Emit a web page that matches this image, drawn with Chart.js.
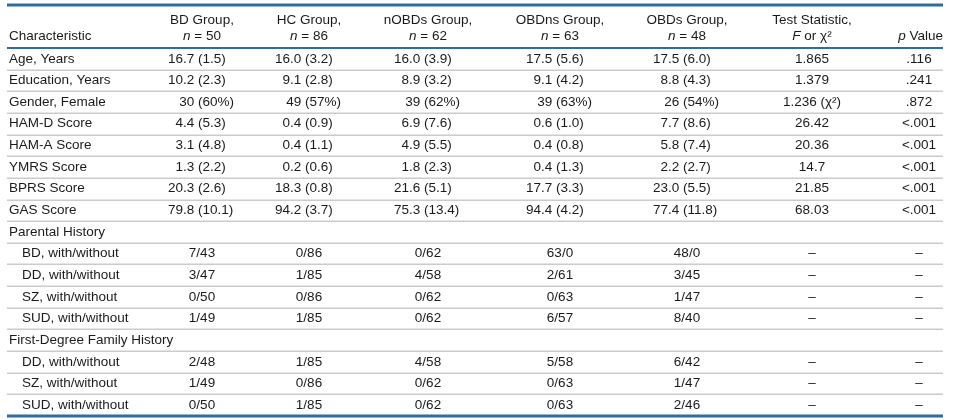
<!DOCTYPE html>
<html>
<head>
<meta charset="utf-8">
<script src="https://cdn.jsdelivr.net/npm/chart.js@4.4.1/dist/chart.umd.min.js"></script>
<style>
  html, body { margin: 0; padding: 0; background: #fff; }
  #wrap { width: 960px; height: 420px; position: relative; }
</style>
</head>
<body>
<div id="wrap"><canvas id="myChart"></canvas></div>
<script>
// rows of the table
const characteristics = [
    'Age, Years', 'Education, Years', 'Gender, Female', 'HAM-D Score', 'HAM-A Score',
    'YMRS Score', 'BPRS Score', 'GAS Score',
    'Parental History', 'BD, with/without', 'DD, with/without', 'SZ, with/without', 'SUD, with/without',
    'First-Degree Family History', 'DD, with/without', 'SZ, with/without', 'SUD, with/without'
];
const sectionHeaders = ['Parental History', 'First-Degree Family History'];

// column headers
const groupNames = ['BD Group,', 'HC Group,', 'nOBDs Group,', 'OBDns Group,', 'OBDs Group,'];
const groupN = [50, 86, 62, 63, 48];

// cell values per column
const bdGroup = ['16.7 (1.5)', '10.2 (2.3)', '30 (60%)', '4.4 (5.3)', '3.1 (4.8)', '1.3 (2.2)', '20.3 (2.6)', '79.8 (10.1)',
    '', '7/43', '3/47', '0/50', '1/49', '', '2/48', '1/49', '0/50'];
const hcGroup = ['16.0 (3.2)', '9.1 (2.8)', '49 (57%)', '0.4 (0.9)', '0.4 (1.1)', '0.2 (0.6)', '18.3 (0.8)', '94.2 (3.7)',
    '', '0/86', '1/85', '0/86', '1/85', '', '1/85', '0/86', '1/85'];
const nobdsGroup = ['16.0 (3.9)', '8.9 (3.2)', '39 (62%)', '6.9 (7.6)', '4.9 (5.5)', '1.8 (2.3)', '21.6 (5.1)', '75.3 (13.4)',
    '', '0/62', '4/58', '0/62', '0/62', '', '4/58', '0/62', '0/62'];
const obdnsGroup = ['17.5 (5.6)', '9.1 (4.2)', '39 (63%)', '0.6 (1.0)', '0.4 (0.8)', '0.4 (1.3)', '17.7 (3.3)', '94.4 (4.2)',
    '', '63/0', '2/61', '0/63', '6/57', '', '5/58', '0/63', '0/63'];
const obdsGroup = ['17.5 (6.0)', '8.8 (4.3)', '26 (54%)', '7.7 (8.6)', '5.8 (7.4)', '2.2 (2.7)', '23.0 (5.5)', '77.4 (11.8)',
    '', '48/0', '3/45', '1/47', '8/40', '', '6/42', '1/47', '2/46'];
const testStatistic = ['1.865', '1.379', '1.236 (\u03C7\u00B2)', '26.42', '20.36', '14.7', '21.85', '68.03',
    '', '\u2013', '\u2013', '\u2013', '\u2013', '', '\u2013', '\u2013', '\u2013'];
const pValue = ['.116', '.241', '.872', '<.001', '<.001', '<.001', '<.001', '<.001',
    '', '\u2013', '\u2013', '\u2013', '\u2013', '', '\u2013', '\u2013', '\u2013'];

const columns = [bdGroup, hcGroup, nobdsGroup, obdnsGroup, obdsGroup, testStatistic, pValue];

// layout (pixels along the x scale)
const colX = [202, 309, 428, 560, 687, 812, 919];
const labelX = 9, indentX = 22, tableLeft = 7, tableRight = 943;
const FONT = '13.5px "Liberation Sans", Arial, sans-serif';
const FONT_I = 'italic 13.5px "Liberation Sans", Arial, sans-serif';
const TEXT = '#1a1a1a';
const BLUE = '#2f6ca4';
const GRAY = '#cbcbcb';

const firstSection = characteristics.indexOf(sectionHeaders[0]);
const isIndented = characteristics.map((c, i) => i > firstSection && !sectionHeaders.includes(c));

function drawRich(c, parts, x, y, align) {
    let total = 0;
    parts.forEach(p => { c.font = p.i ? FONT_I : FONT; total += c.measureText(p.t).width; });
    let cx = align === 'center' ? x - total / 2 : align === 'right' ? x - total : x;
    c.textAlign = 'left';
    parts.forEach(p => {
        c.font = p.i ? FONT_I : FONT;
        c.fillText(p.t, cx, y);
        cx += c.measureText(p.t).width;
    });
}

const tablePlugin = {
    id: 'tablePlugin',
    afterDraw(chart) {
        const c = chart.ctx;
        const y = chart.scales.y;
        const area = chart.chartArea;
        c.save();

        // row separators
        c.strokeStyle = GRAY;
        c.lineWidth = 1.5;
        for (let i = 1; i < characteristics.length; i++) {
            const py = Math.round(y.getPixelForValue(i)) + 0.25;
            c.beginPath(); c.moveTo(tableLeft, py); c.lineTo(tableRight, py); c.stroke();
        }
        // header rule, top and bottom rules
        c.strokeStyle = BLUE;
        c.lineWidth = 2;
        c.beginPath(); c.moveTo(tableLeft, area.top); c.lineTo(tableRight, area.top); c.stroke();
        c.lineWidth = 3;
        c.beginPath(); c.moveTo(tableLeft, area.top - 43); c.lineTo(tableRight, area.top - 43); c.stroke();
        c.beginPath(); c.moveTo(tableLeft, area.bottom); c.lineTo(tableRight, area.bottom); c.stroke();

        // header
        c.fillStyle = TEXT;
        c.textBaseline = 'middle';
        const h1 = area.top - 28, h2 = area.top - 12;
        drawRich(c, [{ t: 'Characteristic' }], labelX, h2, 'left');
        groupNames.forEach((g, k) => {
            drawRich(c, [{ t: g }], colX[k], h1, 'center');
            drawRich(c, [{ t: 'n', i: true }, { t: ' = ' + groupN[k] }], colX[k], h2, 'center');
        });
        drawRich(c, [{ t: 'Test Statistic,' }], colX[5], h1, 'center');
        drawRich(c, [{ t: 'F', i: true }, { t: ' or \u03C7\u00B2' }], colX[5], h2, 'center');
        drawRich(c, [{ t: 'p', i: true }, { t: ' Value' }], tableRight, h2, 'right');

        // characteristic labels
        c.font = FONT;
        const labelMeta = chart.getDatasetMeta(0);
        labelMeta.data.forEach((pt, i) => {
            c.textAlign = 'left';
            c.fillText(characteristics[i], isIndented[i] ? indentX : labelX, pt.y);
        });

        // cells
        columns.forEach((col, k) => {
            const meta = chart.getDatasetMeta(k + 1);
            meta.data.forEach((pt, i) => {
                const v = col[i];
                if (!v) return;
                c.font = FONT;
                const cut = v.indexOf(' (');
                if (cut > 0 && k < 5) {
                    // align on the opening parenthesis
                    const lead = c.measureText(v.slice(0, cut + 1)).width;
                    c.textAlign = 'left';
                    c.fillText(v, pt.x - 4 - lead, pt.y);
                } else {
                    c.textAlign = 'center';
                    c.fillText(v, pt.x, pt.y);
                }
            });
        });
        c.restore();
    }
};

const rowPos = characteristics.map((_, i) => i + 0.5);
const datasets = [{ label: 'Characteristic', data: rowPos.map(r => ({ x: labelX, y: r })) }]
    .concat(columns.map((col, k) => ({
        label: 'col' + k,
        data: rowPos.map(r => ({ x: colX[k], y: r }))
    })));
datasets.forEach(d => { d.pointRadius = 0; d.pointHoverRadius = 0; d.showLine = false; });

const chart = new Chart(document.getElementById('myChart').getContext('2d'), {
    type: 'scatter',
    data: { datasets: datasets },
    options: {
        responsive: true,
        maintainAspectRatio: false,
        animation: false,
        events: [],
        layout: { padding: { top: 48, bottom: 4, left: 0, right: 0 } },
        scales: {
            x: { type: 'linear', display: false, min: 0, max: 960 },
            y: { type: 'linear', display: false, min: 0, max: characteristics.length, reverse: true }
        },
        plugins: {
            legend: { display: false },
            tooltip: { enabled: false }
        }
    },
    plugins: [tablePlugin]
});
</script>
</body>
</html>
